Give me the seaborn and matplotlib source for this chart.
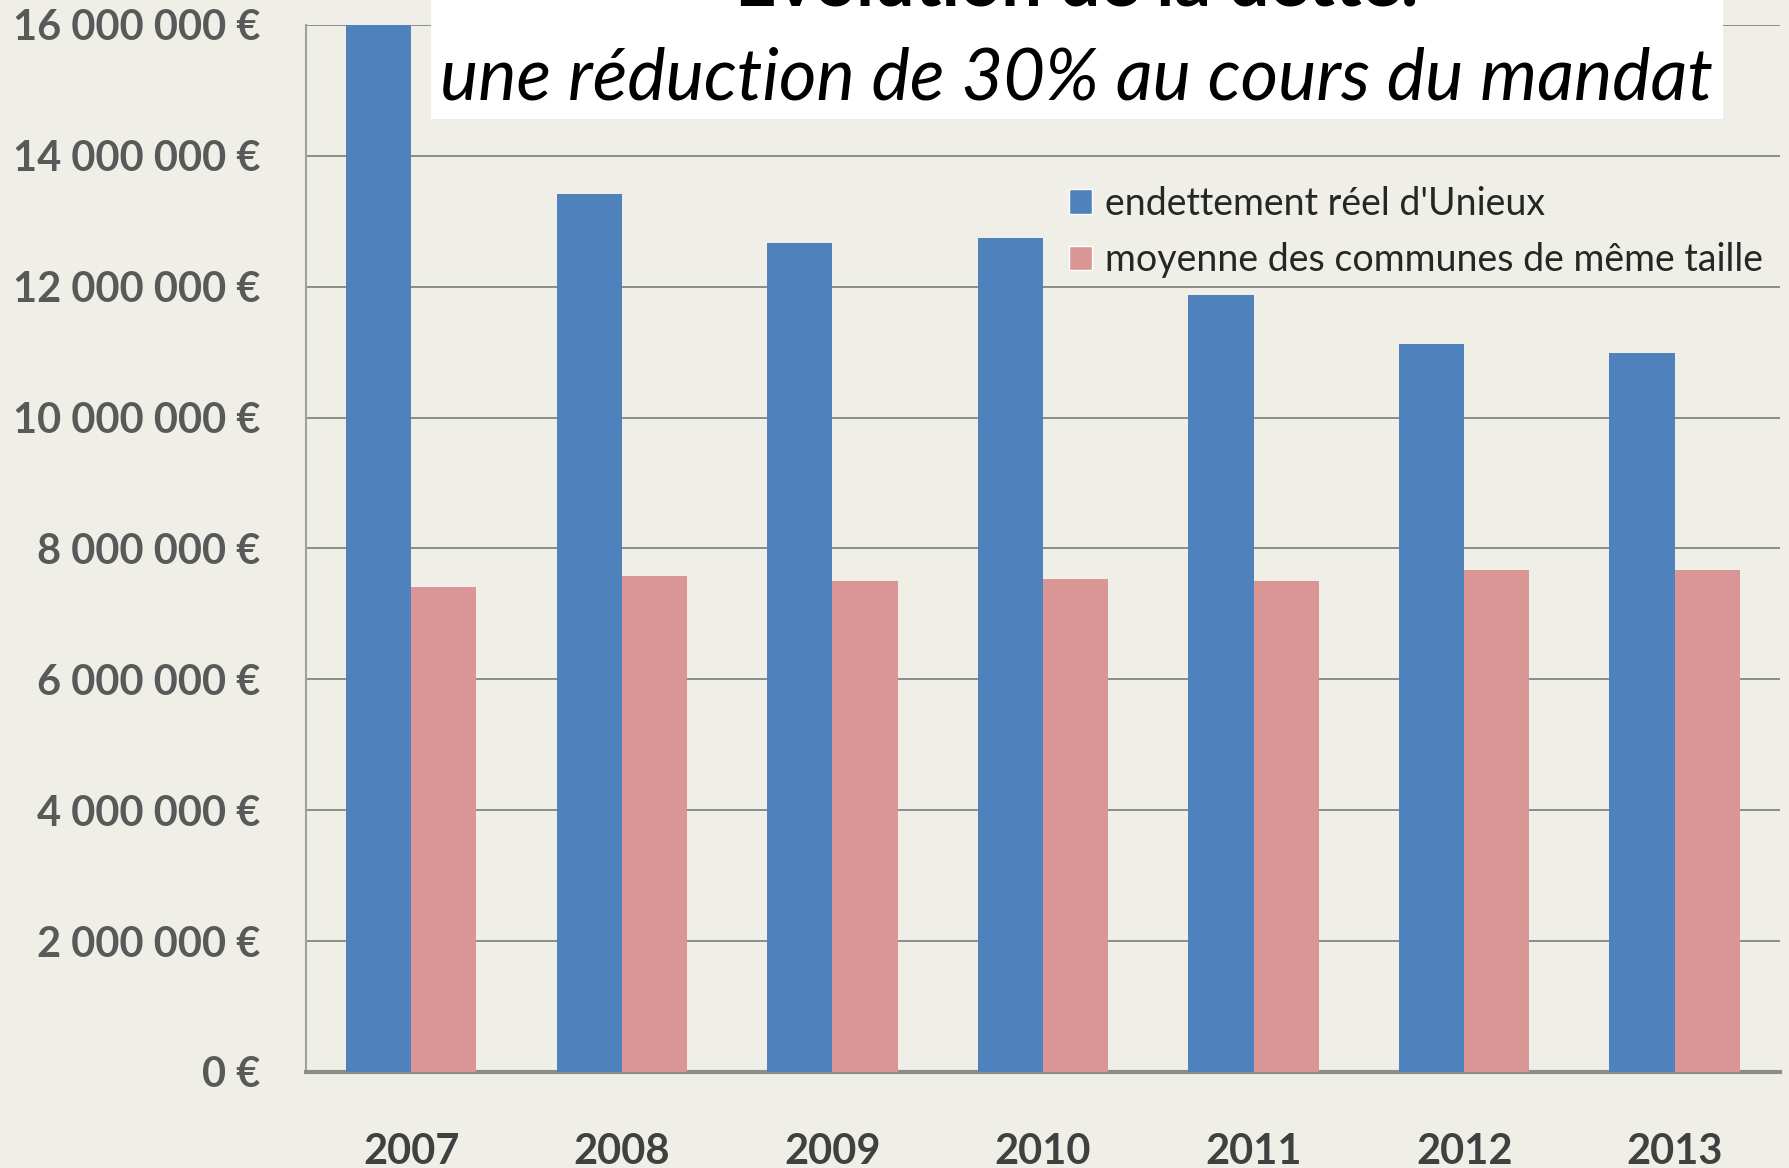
import matplotlib
matplotlib.use("Agg")
import matplotlib.pyplot as plt
import matplotlib.ticker as mticker
from matplotlib.patches import Rectangle, Patch
import seaborn as sns
import pandas as pd

years = ["2007", "2008", "2009", "2010", "2011", "2012", "2013"]
unieux = [16000000, 13420000, 12670000, 12740000, 11870000, 11120000, 10980000]
moyenne = [7410000, 7580000, 7510000, 7530000, 7510000, 7670000, 7670000]
series_names = ["endettement réel d'Unieux", "moyenne des communes de même taille"]
title_line1 = "Évolution de la dette:"
title_line2 = "une réduction de 30% au cours du mandat"

df = pd.DataFrame({
    "year": years * 2,
    "value": unieux + moyenne,
    "series": [series_names[0]] * len(years) + [series_names[1]] * len(years),
})

BG = "#F0EFE7"
BLUE = "#4F81BD"
PINK = "#D99694"
TICK = "#595959"

sns.set_theme(style="white")
plt.rcParams["font.family"] = ["Lato", "DejaVu Sans"]

fig = plt.figure(figsize=(17.89, 11.68), dpi=100, facecolor=BG)
ax = fig.add_axes([0.171, 0.0822, 0.824, 0.8964])
ax.set_facecolor(BG)

sns.barplot(data=df, x="year", y="value", hue="series", order=years,
            hue_order=series_names, palette=[BLUE, PINK], width=0.62,
            saturation=1, ax=ax, legend=False, zorder=3,
            edgecolor="none", linewidth=0)

ax.set_ylim(0, 16000000)
ax.set_xlim(-0.5, 6.5)
ax.yaxis.set_major_locator(mticker.MultipleLocator(2000000))
ax.yaxis.set_major_formatter(mticker.FuncFormatter(
    lambda v, p: "{:,.0f}".format(v).replace(",", " ") + " €"))
ax.grid(axis="y", color="#8C8C8C", linewidth=1.4, zorder=0)
ax.set_axisbelow(True)
ax.set_xlabel("")
ax.set_ylabel("")
for s in ["top", "right"]:
    ax.spines[s].set_visible(False)
ax.spines["left"].set_color("#A0A0A0")
ax.spines["left"].set_linewidth(1.5)
ax.spines["bottom"].set_color("#8C8C8C")
ax.spines["bottom"].set_linewidth(3)
ax.tick_params(axis="y", length=0, pad=33, labelsize=30, labelcolor=TICK)
ax.tick_params(axis="x", length=0, pad=44, labelsize=30, labelcolor="#404040")
for lab in ax.get_yticklabels() + ax.get_xticklabels():
    lab.set_fontweight("bold")

handles = [Patch(facecolor=BLUE), Patch(facecolor=PINK)]
fig.legend(handles, series_names, loc="upper left",
           bbox_to_anchor=(0.5976, 0.841), frameon=False, fontsize=27,
           handlelength=0.62, handleheight=0.62, handletextpad=0.35,
           labelspacing=0.55, borderaxespad=0, borderpad=0)

fig.patches.append(Rectangle((0.241, 0.898), 0.722, 0.11, transform=fig.transFigure,
                             facecolor="white", edgecolor="none", zorder=5))
fig.text(0.602, 0.9957, title_line1, ha="center", va="baseline", fontsize=52,
         fontweight="bold", color="black", zorder=6)
fig.text(0.602, 0.915, title_line2, ha="center", va="baseline", fontsize=52,
         fontstyle="italic", color="black", zorder=6)

fig.savefig("out.png", dpi=100, facecolor=BG)
